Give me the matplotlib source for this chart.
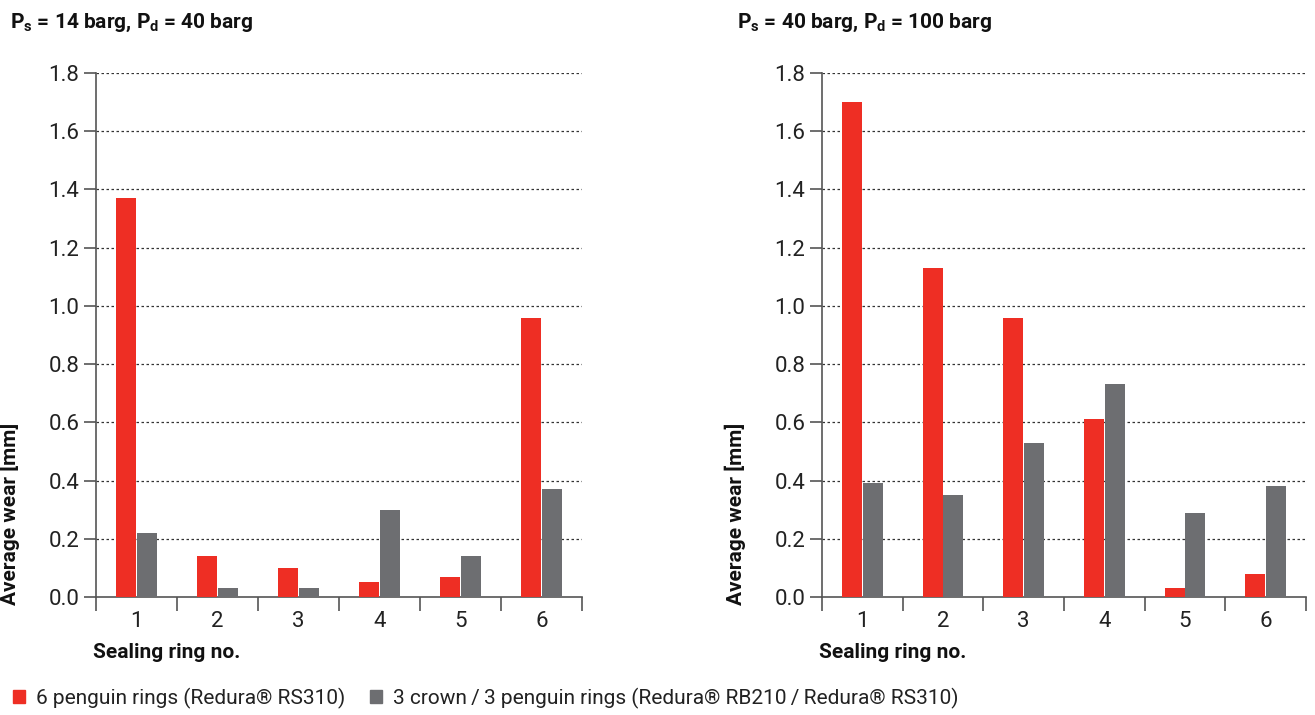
import numpy as np
import matplotlib
matplotlib.use("Agg")
import matplotlib.pyplot as plt
from matplotlib.patches import Patch

rings = ["1", "2", "3", "4", "5", "6"]
yticks = [0.0, 0.2, 0.4, 0.6, 0.8, 1.0, 1.2, 1.4, 1.6, 1.8]

# average wear [mm] per sealing ring
penguin_low = [1.37, 0.14, 0.10, 0.05, 0.07, 0.96]
crown_low = [0.22, 0.03, 0.03, 0.30, 0.14, 0.37]
penguin_high = [1.70, 1.13, 0.96, 0.61, 0.03, 0.08]
crown_high = [0.39, 0.35, 0.53, 0.73, 0.29, 0.38]

titles = ["P$_\\mathregular{s}$ = 14 barg, P$_\\mathregular{d}$ = 40 barg",
          "P$_\\mathregular{s}$ = 40 barg, P$_\\mathregular{d}$ = 100 barg"]
legend_labels = ["6 penguin rings (Redura® RS310)",
                 "3 crown\u2009/\u20093 penguin rings (Redura® RB210\u2009/\u2009Redura® RS310)"]

RED = "#ee2e24"
GREY = "#6d6e71"
AXIS = "#555555"
TEXT = "#222222"

plt.rcParams["font.family"] = ["Roboto", "DejaVu Sans"]
plt.rcParams["mathtext.default"] = "regular"

W, H = 1315, 715
fig = plt.figure(figsize=(W / 100, H / 100), dpi=100)


def px(x0, y0, x1, y1):
    return [x0 / W, 1 - y1 / H, (x1 - x0) / W, (y1 - y0) / H]


def panel(rect, red, grey, title, title_x):
    ax = fig.add_axes(rect)
    x = np.arange(len(rings))
    w = 0.245
    ax.bar(x - 0.128, red, w, color=RED, zorder=3)
    ax.bar(x + 0.128, grey, w, color=GREY, zorder=3)
    ax.set_xlim(-0.5, len(rings) - 0.5)
    ax.set_ylim(0, 1.8)

    ax.set_yticks(yticks)
    ax.set_yticklabels([f"{v:.1f}" for v in yticks])
    ax.set_xticks(np.arange(len(rings) + 1) - 0.5)
    ax.set_xticklabels([])
    ax.set_xticks(x, minor=True)
    ax.set_xticklabels(rings, minor=True)

    ax.tick_params(axis="y", length=9, width=1.2, color=AXIS, pad=3,
                   labelsize=16, labelcolor=TEXT)
    ax.tick_params(axis="x", which="major", length=10, width=1.2, color=AXIS)
    ax.tick_params(axis="x", which="minor", length=0, pad=10,
                   labelsize=16, labelcolor=TEXT)

    for s in ["top", "right"]:
        ax.spines[s].set_visible(False)
    for s in ["left", "bottom"]:
        ax.spines[s].set_color(AXIS)
        ax.spines[s].set_linewidth(1.2)

    for v in yticks[1:]:
        ax.axhline(v, color="#333333", lw=0.9, ls=(0, (2, 2)), zorder=1)

    ax.set_xlabel("Sealing ring no.", fontsize=15, fontweight="bold",
                  color="#111111", loc="left")
    ax.xaxis.set_label_coords(-0.006, -0.088)
    ax.set_ylabel("Average wear [mm]", fontsize=15, fontweight="bold",
                  color="#111111", loc="bottom")
    ax.yaxis.set_label_coords(-0.156, -0.016)

    fig.text(title_x / W, 1 - 28 / H, title, fontsize=15, fontweight="bold",
             color="#111111", ha="left", va="baseline")
    return ax


panel(px(96, 73, 582, 597), penguin_low, crown_low, titles[0], 10)
ax2 = panel(px(822, 73, 1306, 597), penguin_high, crown_high, titles[1], 737)

handles = [Patch(color=RED), Patch(color=GREY)]
fig.legend(handles, legend_labels, loc="center left",
           bbox_to_anchor=(-6 / W, 1 - 698 / H), ncol=2, frameon=False,
           fontsize=15, handlelength=0.6, handleheight=0.6,
           handletextpad=0.5, columnspacing=1.2, labelcolor=TEXT)

fig.savefig("out.png", dpi=100)
